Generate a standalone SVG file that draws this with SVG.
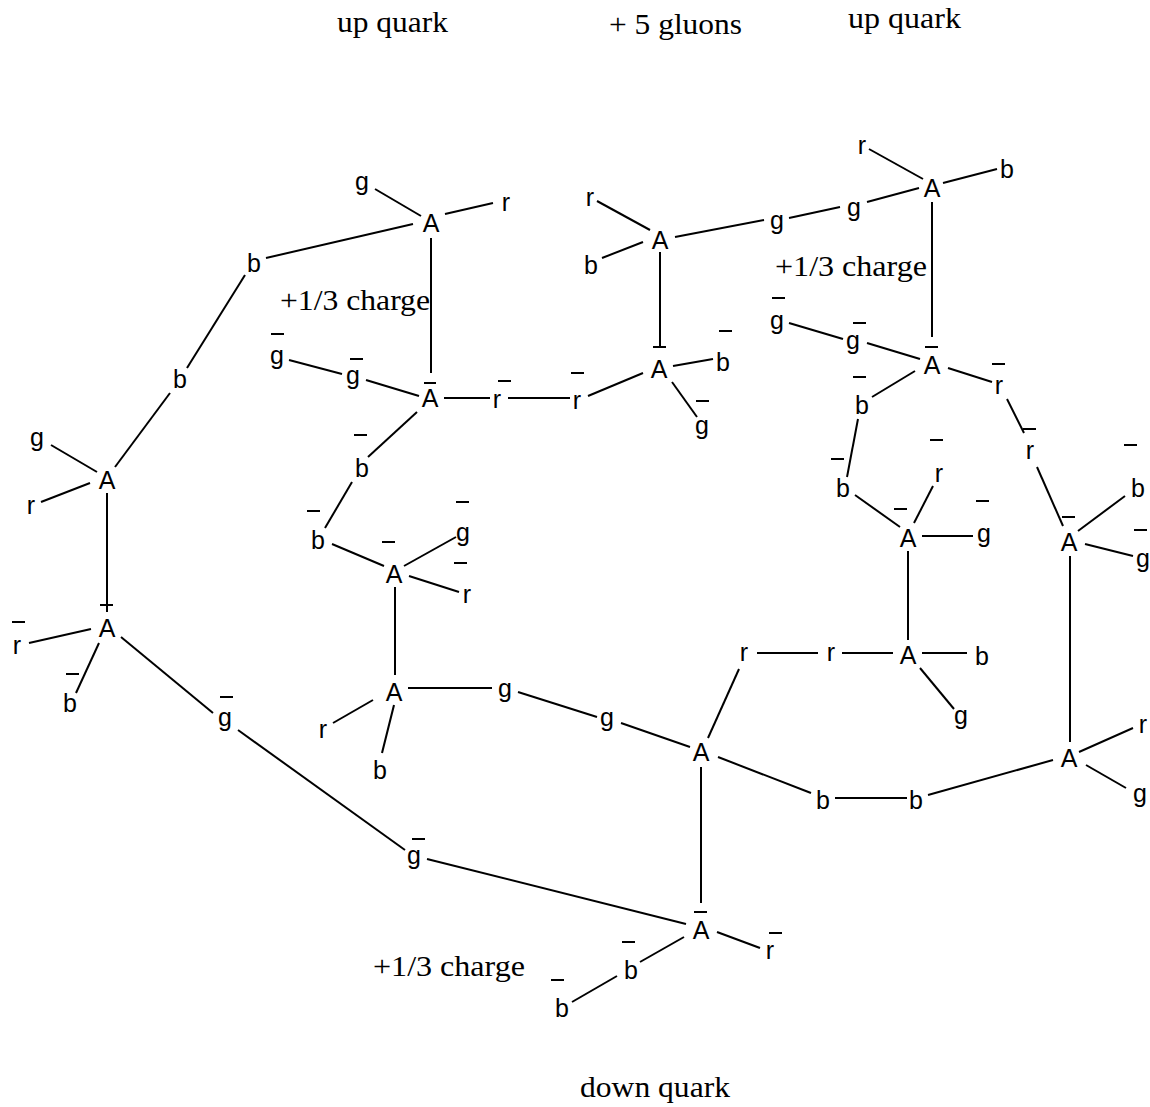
<svg xmlns="http://www.w3.org/2000/svg" width="1150" height="1107" viewBox="0 0 1150 1107">
<style>
.t{font-family:"Liberation Sans",Arial,sans-serif;font-size:25px;text-anchor:middle;fill:#000}
.s{font-family:"Liberation Serif","Times New Roman",serif;font-size:29px;fill:#000}
.c line{stroke:#000;stroke-width:2;stroke-linecap:butt}
.bar{stroke:#000;stroke-width:2}
</style>
<rect width="1150" height="1107" fill="#fff"/>
<g id="titles">
<text class="s" x="337" y="32" textLength="111" lengthAdjust="spacingAndGlyphs">up quark</text>
<text class="s" x="609" y="34" textLength="133" lengthAdjust="spacingAndGlyphs">+ 5 gluons</text>
<text class="s" x="848" y="28" textLength="113" lengthAdjust="spacingAndGlyphs">up quark</text>
<text class="s" x="580" y="1097" textLength="150" lengthAdjust="spacingAndGlyphs">down quark</text>
<text class="s" x="280" y="310" textLength="150" lengthAdjust="spacingAndGlyphs">+1/3 charge</text>
<text class="s" x="775" y="276" textLength="152" lengthAdjust="spacingAndGlyphs">+1/3 charge</text>
<text class="s" x="373" y="976" textLength="152" lengthAdjust="spacingAndGlyphs">+1/3 charge</text>
</g>
<g id="connectors" class="c">
<line x1="375" y1="189" x2="421" y2="216"/>
<line x1="445" y1="214" x2="493" y2="203"/>
<line x1="413" y1="224" x2="266" y2="258"/>
<line x1="245" y1="275" x2="187" y2="368"/>
<line x1="170" y1="393" x2="115" y2="467"/>
<line x1="97" y1="472" x2="51" y2="445"/>
<line x1="90" y1="483" x2="41" y2="502"/>
<line x1="107" y1="493" x2="107" y2="612"/>
<line x1="91" y1="629" x2="29" y2="643"/>
<line x1="99" y1="643" x2="76" y2="693"/>
<line x1="121" y1="637" x2="213" y2="713"/>
<line x1="238" y1="730" x2="405" y2="850"/>
<line x1="427" y1="859" x2="686" y2="924"/>
<line x1="717" y1="932" x2="760" y2="948"/>
<line x1="684" y1="937" x2="640" y2="962"/>
<line x1="617" y1="976" x2="572" y2="1002"/>
<line x1="701" y1="767" x2="701" y2="903"/>
<line x1="431" y1="238" x2="431" y2="373"/>
<line x1="289" y1="360" x2="342" y2="374"/>
<line x1="366" y1="380" x2="419" y2="396"/>
<line x1="444" y1="398" x2="490" y2="398"/>
<line x1="508" y1="398" x2="570" y2="398"/>
<line x1="588" y1="396" x2="643" y2="373"/>
<line x1="673" y1="366" x2="713" y2="359"/>
<line x1="672" y1="382" x2="697" y2="417"/>
<line x1="660" y1="252" x2="660" y2="347"/>
<line x1="597" y1="201" x2="650" y2="230"/>
<line x1="602" y1="258" x2="643" y2="242"/>
<line x1="675" y1="237" x2="764" y2="220"/>
<line x1="789" y1="218" x2="840" y2="207"/>
<line x1="867" y1="202" x2="919" y2="188"/>
<line x1="869" y1="149" x2="923" y2="179"/>
<line x1="943" y1="183" x2="997" y2="169"/>
<line x1="932" y1="202" x2="932" y2="337"/>
<line x1="789" y1="323" x2="843" y2="339"/>
<line x1="867" y1="343" x2="920" y2="359"/>
<line x1="948" y1="368" x2="992" y2="382"/>
<line x1="1007" y1="399" x2="1024" y2="433"/>
<line x1="1037" y1="467" x2="1063" y2="526"/>
<line x1="1078" y1="531" x2="1125" y2="496"/>
<line x1="1085" y1="544" x2="1133" y2="556"/>
<line x1="1070" y1="556" x2="1070" y2="742"/>
<line x1="1079" y1="752" x2="1133" y2="728"/>
<line x1="1086" y1="765" x2="1126" y2="788"/>
<line x1="1053" y1="760" x2="928" y2="795"/>
<line x1="835" y1="798" x2="907" y2="798"/>
<line x1="718" y1="757" x2="811" y2="793"/>
<line x1="708" y1="738" x2="739" y2="669"/>
<line x1="757" y1="653" x2="818" y2="653"/>
<line x1="842" y1="653" x2="893" y2="653"/>
<line x1="922" y1="653" x2="967" y2="653"/>
<line x1="920" y1="668" x2="954" y2="709"/>
<line x1="908" y1="551" x2="908" y2="640"/>
<line x1="915" y1="371" x2="872" y2="397"/>
<line x1="858" y1="419" x2="847" y2="477"/>
<line x1="855" y1="495" x2="900" y2="527"/>
<line x1="914" y1="523" x2="933" y2="486"/>
<line x1="922" y1="536" x2="973" y2="536"/>
<line x1="417" y1="412" x2="368" y2="457"/>
<line x1="352" y1="482" x2="325" y2="528"/>
<line x1="332" y1="544" x2="384" y2="566"/>
<line x1="404" y1="566" x2="456" y2="537"/>
<line x1="409" y1="576" x2="459" y2="592"/>
<line x1="395" y1="587" x2="395" y2="675"/>
<line x1="408" y1="688" x2="492" y2="688"/>
<line x1="373" y1="700" x2="333" y2="723"/>
<line x1="394" y1="705" x2="382" y2="753"/>
<line x1="518" y1="692" x2="597" y2="717"/>
<line x1="621" y1="723" x2="690" y2="747"/>
</g>
<g id="nodes">
<g id="a01"><text class="t" x="431" y="232">A</text></g>
<g id="a02"><text class="t" x="430" y="407">A</text><line class="bar" x1="424" y1="383" x2="436" y2="383"/></g>
<g id="a03"><text class="t" x="659" y="378">A</text><line class="bar" x1="653" y1="347" x2="666" y2="347"/></g>
<g id="a04"><text class="t" x="660" y="249">A</text></g>
<g id="a05"><text class="t" x="932" y="197">A</text></g>
<g id="a06"><text class="t" x="932" y="374">A</text><line class="bar" x1="925" y1="347" x2="938" y2="347"/></g>
<g id="a07"><text class="t" x="394" y="583">A</text><line class="bar" x1="382" y1="542" x2="395" y2="542"/></g>
<g id="a08"><text class="t" x="394" y="701">A</text></g>
<g id="a09"><text class="t" x="701" y="761">A</text></g>
<g id="a10"><text class="t" x="701" y="939">A</text><line class="bar" x1="694" y1="912" x2="707" y2="912"/></g>
<g id="a11"><text class="t" x="107" y="637">A</text><line class="bar" x1="100" y1="605" x2="113" y2="605"/></g>
<g id="a12"><text class="t" x="107" y="489">A</text></g>
<g id="a13"><text class="t" x="908" y="547">A</text><line class="bar" x1="894" y1="509" x2="907" y2="509"/></g>
<g id="a14"><text class="t" x="908" y="664">A</text></g>
<g id="a15"><text class="t" x="1069" y="551">A</text><line class="bar" x1="1062" y1="517" x2="1075" y2="517"/></g>
<g id="a16"><text class="t" x="1069" y="767">A</text></g>

<g id="b01"><text class="t" x="254" y="272">b</text></g>
<g id="b02"><text class="t" x="180" y="388">b</text></g>
<g id="b03"><text class="t" x="70" y="712">b</text><line class="bar" x1="66" y1="674" x2="79" y2="674"/></g>
<g id="b04"><text class="t" x="631" y="979">b</text><line class="bar" x1="622" y1="942" x2="635" y2="942"/></g>
<g id="b05"><text class="t" x="562" y="1017">b</text><line class="bar" x1="551" y1="980" x2="564" y2="980"/></g>
<g id="b06"><text class="t" x="362" y="477">b</text><line class="bar" x1="354" y1="435" x2="367" y2="435"/></g>
<g id="b07"><text class="t" x="318" y="549">b</text><line class="bar" x1="307" y1="511" x2="320" y2="511"/></g>
<g id="b08"><text class="t" x="380" y="779">b</text></g>
<g id="b09"><text class="t" x="982" y="665">b</text></g>
<g id="b10"><text class="t" x="823" y="809">b</text></g>
<g id="b11"><text class="t" x="916" y="809">b</text></g>
<g id="b12"><text class="t" x="1138" y="497">b</text><line class="bar" x1="1124" y1="445" x2="1137" y2="445"/></g>
<g id="b13"><text class="t" x="862" y="414">b</text><line class="bar" x1="853" y1="377" x2="866" y2="377"/></g>
<g id="b14"><text class="t" x="843" y="497">b</text><line class="bar" x1="831" y1="459" x2="844" y2="459"/></g>
<g id="b15"><text class="t" x="1007" y="178">b</text></g>
<g id="b16"><text class="t" x="591" y="274">b</text></g>
<g id="b17"><text class="t" x="723" y="371">b</text><line class="bar" x1="719" y1="331" x2="732" y2="331"/></g>

<g id="r01"><text class="t" x="506" y="211">r</text></g>
<g id="r02"><text class="t" x="31" y="514">r</text></g>
<g id="r03"><text class="t" x="17" y="654">r</text><line class="bar" x1="12" y1="622" x2="25" y2="622"/></g>
<g id="r04"><text class="t" x="770" y="959">r</text><line class="bar" x1="769" y1="933" x2="782" y2="933"/></g>
<g id="r05"><text class="t" x="497" y="408">r</text><line class="bar" x1="498" y1="381" x2="511" y2="381"/></g>
<g id="r06"><text class="t" x="577" y="409">r</text><line class="bar" x1="571" y1="373" x2="584" y2="373"/></g>
<g id="r07"><text class="t" x="467" y="603">r</text><line class="bar" x1="454" y1="563" x2="467" y2="563"/></g>
<g id="r08"><text class="t" x="323" y="738">r</text></g>
<g id="r09"><text class="t" x="744" y="661">r</text></g>
<g id="r10"><text class="t" x="831" y="661">r</text></g>
<g id="r11"><text class="t" x="1143" y="733">r</text></g>
<g id="r12"><text class="t" x="1030" y="459">r</text><line class="bar" x1="1023" y1="429" x2="1036" y2="429"/></g>
<g id="r13"><text class="t" x="999" y="394">r</text><line class="bar" x1="992" y1="364" x2="1005" y2="364"/></g>
<g id="r14"><text class="t" x="939" y="482">r</text><line class="bar" x1="930" y1="440" x2="943" y2="440"/></g>
<g id="r15"><text class="t" x="862" y="154">r</text></g>
<g id="r16"><text class="t" x="590" y="206">r</text></g>

<g id="g01"><text class="t" x="362" y="190">g</text></g>
<g id="g02"><text class="t" x="37" y="446">g</text></g>
<g id="g03"><text class="t" x="225" y="726">g</text><line class="bar" x1="220" y1="697" x2="233" y2="697"/></g>
<g id="g04"><text class="t" x="414" y="864">g</text><line class="bar" x1="412" y1="839" x2="425" y2="839"/></g>
<g id="g05"><text class="t" x="353" y="384">g</text><line class="bar" x1="350" y1="359" x2="363" y2="359"/></g>
<g id="g06"><text class="t" x="277" y="364">g</text><line class="bar" x1="271" y1="334" x2="284" y2="334"/></g>
<g id="g07"><text class="t" x="463" y="541">g</text><line class="bar" x1="456" y1="502" x2="469" y2="502"/></g>
<g id="g08"><text class="t" x="505" y="697">g</text></g>
<g id="g09"><text class="t" x="607" y="726">g</text></g>
<g id="g10"><text class="t" x="961" y="724">g</text></g>
<g id="g11"><text class="t" x="1140" y="802">g</text></g>
<g id="g12"><text class="t" x="1143" y="567">g</text><line class="bar" x1="1134" y1="530" x2="1147" y2="530"/></g>
<g id="g13"><text class="t" x="853" y="349">g</text><line class="bar" x1="853" y1="323" x2="866" y2="323"/></g>
<g id="g14"><text class="t" x="777" y="329">g</text><line class="bar" x1="772" y1="298" x2="785" y2="298"/></g>
<g id="g15"><text class="t" x="984" y="542">g</text><line class="bar" x1="976" y1="501" x2="989" y2="501"/></g>
<g id="g16"><text class="t" x="854" y="216">g</text></g>
<g id="g17"><text class="t" x="777" y="229">g</text></g>
<g id="g18"><text class="t" x="702" y="434">g</text><line class="bar" x1="696" y1="401" x2="709" y2="401"/></g>
</g>
</svg>
